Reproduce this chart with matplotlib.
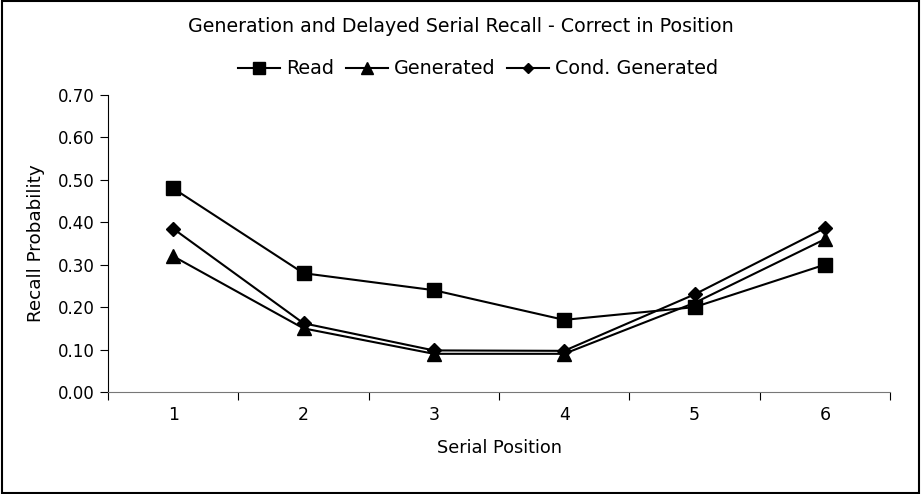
#!/usr/bin/env python3

import numpy as np
from matplotlib import pyplot as plt
from matplotlib.patches import Rectangle

positions = [1, 2, 3, 4, 5, 6]
read = [0.48, 0.28, 0.24, 0.17, 0.20, 0.30]
generated = [0.32, 0.15, 0.09, 0.09, 0.21, 0.36]
cond_generated = [0.385, 0.162, 0.098, 0.097, 0.23, 0.386]

fig = plt.figure(figsize=(9.22, 4.94), dpi=100)
ax = fig.add_axes([108/922, 1-392/494, (890-108)/922, (392-95)/494])

ax.plot(positions, read, color='black', lw=1.5, marker='s', ms=10, label='Read')
ax.plot(positions, generated, color='black', lw=1.5, marker='^', ms=10, label='Generated')
ax.plot(positions, cond_generated, color='black', lw=1.5, marker='D', ms=7, label='Cond. Generated')

ax.set_xlim(0.5, 6.5)
ax.set_ylim(0, 0.7)
ax.set_yticks(np.arange(0, 0.71, 0.1))
ax.set_yticklabels([f'{v:.2f}' for v in np.arange(0, 0.71, 0.1)], fontsize=12)
ax.set_xticks(np.arange(0.5, 6.6, 1))
ax.set_xticklabels([])
ax.set_xticks(positions, minor=True)
ax.set_xticklabels([str(p) for p in positions], minor=True, fontsize=12.5)
ax.tick_params(axis='x', which='minor', length=0, pad=10)
ax.tick_params(axis='x', which='major', length=6, direction='out')
ax.tick_params(axis='y', length=6, direction='out')
ax.spines['top'].set_visible(False)
ax.spines['right'].set_visible(False)
ax.spines['bottom'].set_color('#777777')

ax.set_xlabel('Serial Position', fontsize=12.8, labelpad=11)
ax.set_ylabel('Recall Probability', fontsize=13.2, labelpad=9)

fig.text(0.5, 1-27/494, 'Generation and Delayed Serial Recall - Correct in Position',
         ha='center', va='center', fontsize=13.7)
fig.legend(loc='center', bbox_to_anchor=(478/922, 1-69/494), ncol=3, frameon=False,
           fontsize=13.8, handlelength=2.2, handletextpad=0.3, columnspacing=0.6,
           markerscale=0.8)

fig.patches.append(Rectangle((0.002, 0.003), 0.995, 0.994, transform=fig.transFigure,
                             fill=False, edgecolor='black', lw=1.5))

fig.savefig('out.png', dpi=100)
